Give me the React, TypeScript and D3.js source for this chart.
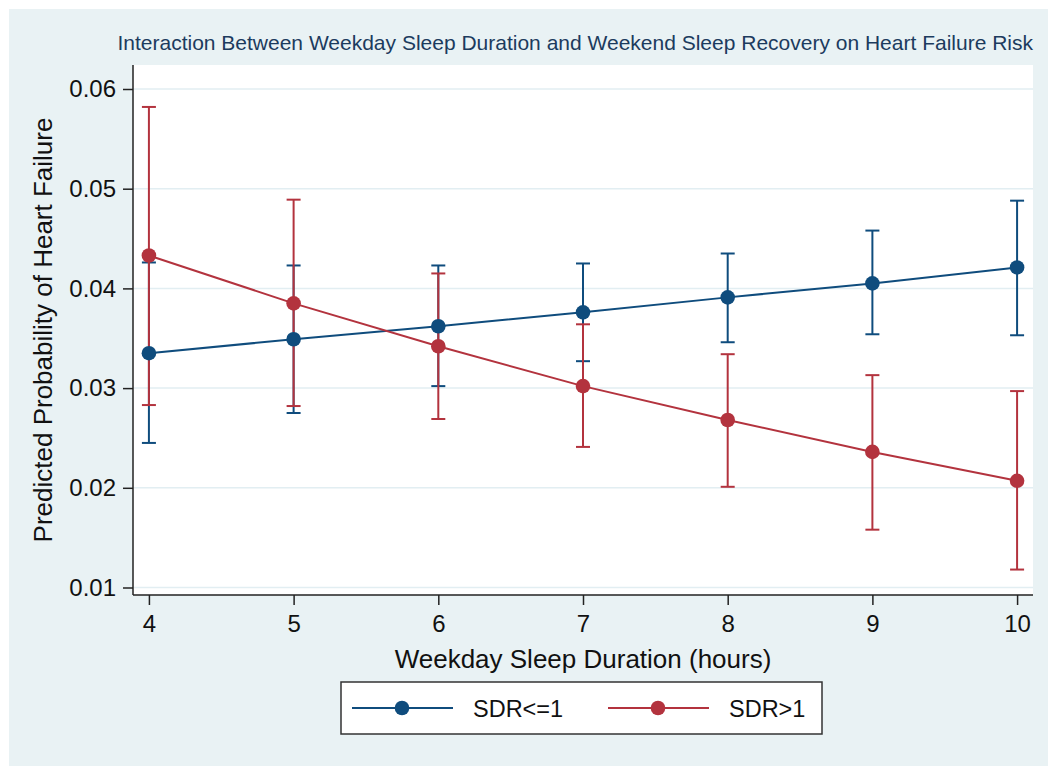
import { useEffect, useRef } from "react"
import * as d3 from "d3"

// weekday sleep hours on the x axis
const hours = [4, 5, 6, 7, 8, 9, 10]

// SDR<=1
const lowSdrMargin = [0.0335, 0.0349, 0.0362, 0.0376, 0.0391, 0.0405, 0.0421]
const lowSdrLower = [0.0245, 0.0275, 0.0302, 0.0327, 0.0346, 0.0354, 0.0353]
const lowSdrUpper = [0.0426, 0.0423, 0.0423, 0.0425, 0.0435, 0.0458, 0.0488]

// SDR>1
const highSdrMargin = [0.0433, 0.0385, 0.0342, 0.0302, 0.0268, 0.0236, 0.0207]
const highSdrLower = [0.0283, 0.0282, 0.0269, 0.0241, 0.0201, 0.0158, 0.0118]
const highSdrUpper = [0.0582, 0.0489, 0.0415, 0.0364, 0.0334, 0.0313, 0.0297]

const yTicks = [0.01, 0.02, 0.03, 0.04, 0.05, 0.06]
const seriesNames = ["SDR<=1", "SDR>1"]

const BLUE = "#0f4c7d"
const RED = "#b3333e"

export default function App() {
  const svgRef = useRef<SVGSVGElement>(null)

  useEffect(() => {
    if (!svgRef.current) return
    const svg = d3.select(svgRef.current)
    svg.selectAll("*").remove()

    const font = "'Liberation Sans', Arial, sans-serif"
    const left = 133
    const right = 1033
    const top = 65
    const bottom = 595

    svg.append("rect").attr("width", 1057).attr("height", 772).attr("fill", "#ffffff")
    svg.append("rect")
      .attr("x", 9).attr("y", 9)
      .attr("width", 1039).attr("height", 757)
      .attr("fill", "#e9f2f4")
    svg.append("rect")
      .attr("x", left).attr("y", top)
      .attr("width", right - left).attr("height", bottom - top)
      .attr("fill", "#ffffff")

    const x = d3.scaleLinear().domain([3.89, 10.11]).range([left, right])
    const y = d3.scaleLinear().domain([0.01, 0.06]).range([587.5, 89])

    // grid
    svg.append("g")
      .selectAll("line")
      .data(yTicks)
      .enter()
      .append("line")
      .attr("x1", left).attr("x2", right)
      .attr("y1", (d) => y(d)).attr("y2", (d) => y(d))
      .attr("stroke", "#e2eef2")
      .attr("stroke-width", 1.5)

    // axes
    const yAxis = d3.axisLeft(y).tickValues(yTicks).tickFormat(d3.format(".2f")).tickSize(10).tickPadding(7)
    const gy = svg.append("g").attr("transform", `translate(${left},0)`).call(yAxis)
    gy.select(".domain").attr("d", `M0,${top}V${bottom}`).attr("stroke", "#222").attr("stroke-width", 1.5)
    gy.selectAll(".tick line").attr("stroke", "#222").attr("stroke-width", 1.5)
    gy.selectAll(".tick text").attr("font-family", font).attr("font-size", 24).attr("fill", "#111")

    const xAxis = d3.axisBottom(x).tickValues(hours).tickFormat(d3.format("d")).tickSize(10).tickPadding(10)
    const gx = svg.append("g").attr("transform", `translate(0,${bottom})`).call(xAxis)
    gx.select(".domain").attr("d", `M${left},0H${right}`).attr("stroke", "#222").attr("stroke-width", 1.5)
    gx.selectAll(".tick line").attr("stroke", "#222").attr("stroke-width", 1.5)
    gx.selectAll(".tick text").attr("font-family", font).attr("font-size", 24).attr("fill", "#111")

    // titles
    svg.append("text")
      .attr("x", right).attr("y", 50)
      .attr("text-anchor", "end")
      .attr("font-family", font).attr("font-size", 21)
      .attr("fill", "#1c3b5e")
      .text("Interaction Between Weekday Sleep Duration and Weekend Sleep Recovery on Heart Failure Risk")

    svg.append("text")
      .attr("x", (left + right) / 2).attr("y", 668)
      .attr("text-anchor", "middle")
      .attr("font-family", font).attr("font-size", 26)
      .attr("fill", "#111")
      .text("Weekday Sleep Duration (hours)")

    svg.append("text")
      .attr("transform", `translate(52,${(top + bottom) / 2}) rotate(-90)`)
      .attr("text-anchor", "middle")
      .attr("font-family", font).attr("font-size", 26)
      .attr("fill", "#111")
      .text("Predicted Probability of Heart Failure")

    const series = [
      { name: seriesNames[0], color: BLUE, mid: lowSdrMargin, lo: lowSdrLower, hi: lowSdrUpper },
      { name: seriesNames[1], color: RED, mid: highSdrMargin, lo: highSdrLower, hi: highSdrUpper },
    ]

    // confidence caps first
    series.forEach((s) => {
      const g = svg.append("g").attr("stroke", s.color).attr("stroke-width", 2)
      hours.forEach((h, i) => {
        g.append("line").attr("x1", x(h)).attr("x2", x(h)).attr("y1", y(s.lo[i])).attr("y2", y(s.hi[i]))
        g.append("line").attr("x1", x(h) - 7).attr("x2", x(h) + 7).attr("y1", y(s.lo[i])).attr("y2", y(s.lo[i]))
        g.append("line").attr("x1", x(h) - 7).attr("x2", x(h) + 7).attr("y1", y(s.hi[i])).attr("y2", y(s.hi[i]))
      })
    })

    const line = d3.line<number>().x((_, i) => x(hours[i])).y((d) => y(d))
    series.forEach((s) => {
      svg.append("path")
        .attr("d", line(s.mid))
        .attr("fill", "none")
        .attr("stroke", s.color)
        .attr("stroke-width", 2)
      svg.append("g")
        .selectAll("circle")
        .data(s.mid)
        .enter()
        .append("circle")
        .attr("cx", (_, i) => x(hours[i]))
        .attr("cy", (d) => y(d))
        .attr("r", 7.3)
        .attr("fill", s.color)
    })

    // legend
    const legend = svg.append("g")
    legend.append("rect")
      .attr("x", 341).attr("y", 682)
      .attr("width", 481).attr("height", 52)
      .attr("fill", "#ffffff")
      .attr("stroke", "#333")
      .attr("stroke-width", 1.5)
    const legendX = [352, 608]
    series.forEach((s, i) => {
      const lx = legendX[i]
      legend.append("line")
        .attr("x1", lx).attr("x2", lx + 101)
        .attr("y1", 708).attr("y2", 708)
        .attr("stroke", s.color).attr("stroke-width", 2)
      legend.append("circle").attr("cx", lx + 50).attr("cy", 708).attr("r", 7.3).attr("fill", s.color)
      legend.append("text")
        .attr("x", lx + 121).attr("y", 716.5)
        .attr("font-family", font).attr("font-size", 23.5)
        .attr("fill", "#111")
        .text(s.name)
    })
  }, [])

  return (
    <div style={{ position: "absolute", left: 0, top: 0 }}>
      <svg ref={svgRef} width={1057} height={772} style={{ display: "block" }} />
    </div>
  )
}
